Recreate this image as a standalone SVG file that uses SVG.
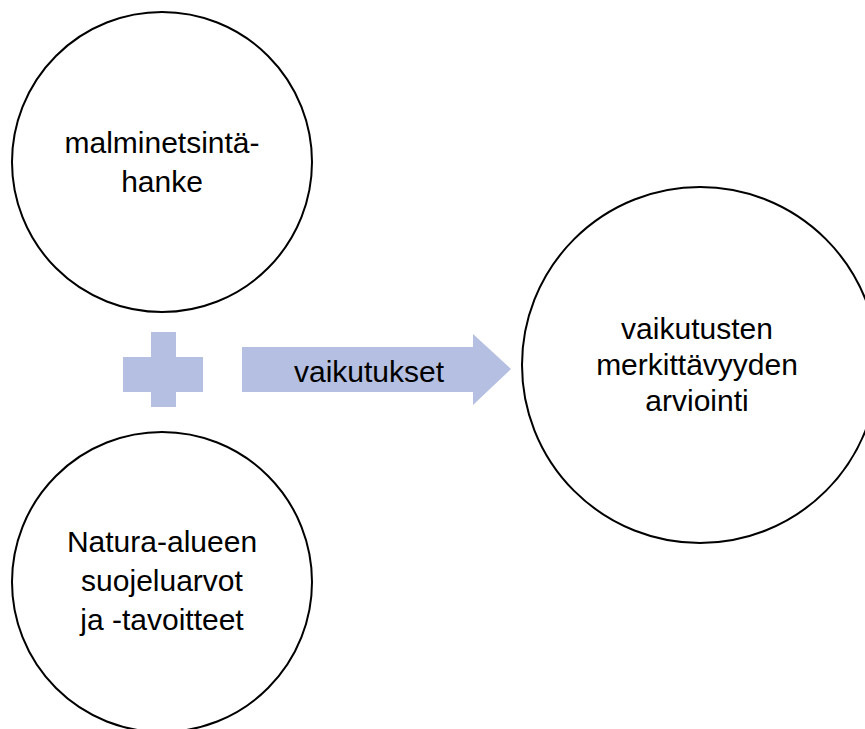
<svg xmlns="http://www.w3.org/2000/svg" width="865" height="729" viewBox="0 0 865 729">
<style>
.node{fill:#ffffff;stroke:#000000;stroke-width:2}
.shape{fill:#b4bfe1;stroke:none}
text{font-family:"Liberation Sans",Arial,sans-serif;font-size:30px;fill:#000000;text-anchor:middle}
</style>
<rect width="865" height="729" fill="#ffffff"/>
<g id="node-hanke">
<circle class="node" cx="162" cy="162" r="150"/>
<text x="162" y="153">malminetsintä-</text>
<text x="162" y="192">hanke</text>
</g>
<g id="node-natura">
<circle class="node" cx="162" cy="582" r="150"/>
<text x="162" y="552">Natura-alueen</text>
<text x="162" y="591">suojeluarvot</text>
<text x="162" y="630">ja -tavoitteet</text>
</g>
<g id="node-arviointi">
<circle class="node" cx="700" cy="365" r="178"/>
<text x="697" y="339">vaikutusten</text>
<text x="697" y="375">merkittävyyden</text>
<text x="697" y="411">arviointi</text>
</g>
<g id="plus">
<rect class="shape" x="123" y="357" width="80" height="35"/>
<rect class="shape" x="151" y="332" width="25" height="75"/>
</g>
<g id="connectors">
<polygon class="shape" points="242,347 473,347 473,334 511,369 473,405 473,392 242,392"/>
<text x="369" y="382">vaikutukset</text>
</g>
</svg>
